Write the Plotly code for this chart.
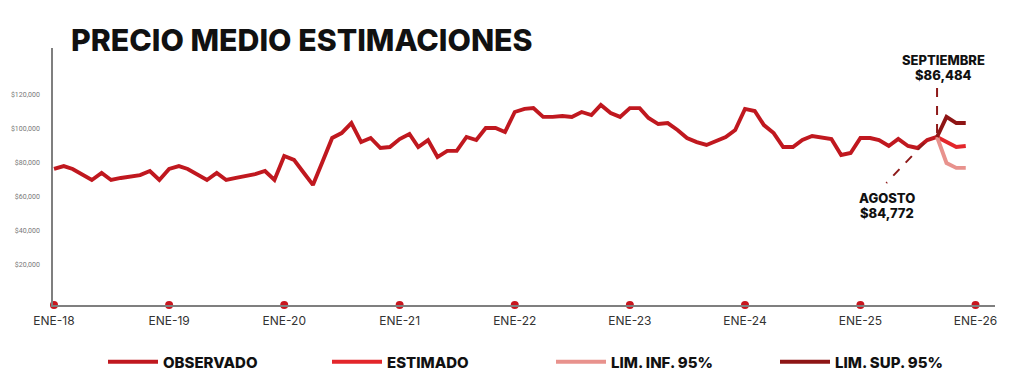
import pandas as pd
import plotly.graph_objects as go

# ---------------- data ----------------
start_month = "2018-01-01"
observado = [
    76500, 78200, 76500, 73500, 70000, 74100, 70000, 71200, 72300, 72900, 75300, 70000,   # 2018
    76500, 78200, 76500, 72900, 70000, 74100, 70000, 71200, 72300, 73500, 75300, 70000,   # 2019
    84100, 81800, 74700, 67100, 80600, 94700, 97600, 103500, 92300, 94700, 88800, 89400,  # 2020
    94100, 97100, 89400, 93500, 83500, 87100, 87100, 95300, 93500, 100600, 100600, 98200, # 2021
    110000, 111800, 112300, 107100, 107100, 107600, 107100, 110000, 108200, 114100, 109400, 107100,  # 2022
    112300, 112300, 106500, 102900, 103500, 99400, 94700, 92300, 90600, 92900, 95300, 99400,  # 2023
    111800, 110600, 102300, 97600, 89400, 89400, 93500, 95900, 94700, 94100, 84700, 85900,  # 2024
    94700, 94700, 93500, 90000, 94100, 90000, 88800, 93500, 95300,                          # 2025 (ene-sep)
]
estimado = [95300, 92300, 89400, 90000]      # sep-dic 2025
lim_inf = [95300, 80000, 77100, 77100]
lim_sup = [95300, 107100, 103500, 103500]

years = list(range(2018, 2027))
tick_labels = [f"ENE-{str(y)[2:]}" for y in years]
y_ticks = [20000, 40000, 60000, 80000, 100000, 120000]

series_names = ["OBSERVADO", "ESTIMADO", "LIM. INF. 95%", "LIM. SUP. 95%"]
colors = ["#C0181F", "#E3262B", "#E8928D", "#8E1515"]

label_ago = ["AGOSTO", "$84,772"]
label_sep = ["SEPTIEMBRE", "$86,484"]

# ---------------- build ----------------
obs_dates = pd.date_range(start_month, periods=len(observado), freq="MS")
fc_dates = pd.date_range(obs_dates[-1], periods=len(estimado), freq="MS")
tick_dates = [pd.Timestamp(f"{y}-01-01") for y in years]

# figure is drawn inside the page body (8px default margin), so size it accordingly
FW, FH = 1016, 381
L, R, T, B = 45, 29, 40, 84
W, H = FW - L - R, FH - T - B
days_per_px = 30.44 / 9.6
x0 = pd.Timestamp(start_month) - pd.Timedelta(days=1 * days_per_px)
x1 = x0 + pd.Timedelta(days=W * days_per_px)
ymin, ymax = -3530, 147640


def px_x(date, dpx):
    return date + pd.Timedelta(days=dpx * days_per_px)


def px_y(val, dpx):
    return val - dpx * (ymax - ymin) / H


fig = go.Figure()
for name, xs, ys, col in [
    (series_names[0], obs_dates, observado, colors[0]),
    (series_names[1], fc_dates, estimado, colors[1]),
    (series_names[2], fc_dates, lim_inf, colors[2]),
    (series_names[3], fc_dates, lim_sup, colors[3]),
]:
    fig.add_trace(go.Scatter(x=xs, y=ys, mode="lines", name=name,
                             line=dict(color=col, width=3.9)))
# red dots on the x axis at each tick
fig.add_trace(go.Scatter(x=tick_dates, y=[ymin] * len(tick_dates), mode="markers",
                         marker=dict(color="#C8161E", size=8), cliponaxis=False,
                         showlegend=False, hoverinfo="skip"))

# dashed leaders for the labelled months
sep_date, sep_val = obs_dates[-1], observado[-1]
ago_date, ago_val = obs_dates[-2], observado[-2]
dash_col = "#8E1A1A"
fig.add_shape(type="line", xref="x", yref="y",
              x0=sep_date, x1=sep_date, y0=px_y(sep_val, -4), y1=px_y(sep_val, -50),
              line=dict(color=dash_col, width=2, dash="dash"))
fig.add_shape(type="line", xref="x", yref="y",
              x0=px_x(ago_date, -3), y0=px_y(ago_val, 3),
              x1=px_x(ago_date, -41), y1=px_y(ago_val, 43),
              line=dict(color=dash_col, width=2, dash="dash"))

txt_font = dict(family="Inter, Roboto, sans-serif", size=13, color="#111111", weight=800)
for i, (dx, dy) in enumerate([(6, -77), (6, -62)]):
    fig.add_annotation(x=px_x(sep_date, dx), y=px_y(sep_val, dy), xref="x", yref="y",
                       text=label_sep[i], showarrow=False, font=txt_font,
                       xanchor="center", yanchor="middle")
for i, (dx, dy) in enumerate([(-40, 58), (-40, 73)]):
    fig.add_annotation(x=px_x(ago_date, dx), y=px_y(ago_val, dy), xref="x", yref="y",
                       text=label_ago[i], showarrow=False, font=txt_font,
                       xanchor="center", yanchor="middle")

fig.update_layout(
    width=FW, height=FH,
    margin=dict(l=L, r=R, t=T, b=B, autoexpand=False),
    paper_bgcolor="white", plot_bgcolor="white",
    title=dict(text="PRECIO MEDIO ESTIMACIONES", x=63 / FW, xanchor="left",
               xref="container", y=1 - 32 / FH, yanchor="middle", yref="container",
               font=dict(family="Inter, Roboto, sans-serif", size=30.3, color="#111111", weight=800)),
    xaxis=dict(type="date", range=[x0, x1], tickvals=tick_dates, ticktext=tick_labels,
               showgrid=False, zeroline=False, showline=True, linecolor="#7F7F7F", linewidth=1.5,
               ticks="", ticklabelstandoff=4, automargin=False,
               tickfont=dict(family="Inter, Roboto, sans-serif", size=12, color="#333333")),
    yaxis=dict(range=[ymin, ymax], tickvals=y_ticks, tickformat="$,.0f",
               showgrid=False, zeroline=False, showline=True, linecolor="#7F7F7F", linewidth=1.5,
               ticks="", ticklabelstandoff=10, automargin=False,
               tickfont=dict(family="Roboto, sans-serif", size=7, color="#777777")),
    showlegend=True,
    legend=dict(orientation="h", xref="container", x=95 / FW, xanchor="left",
                yref="container", y=1 - 354 / FH, yanchor="middle",
                itemwidth=50, entrywidth=159, entrywidthmode="pixels",
                font=dict(family="Inter, Roboto, sans-serif", size=15, color="#111111", weight=800),
                bgcolor="rgba(0,0,0,0)"),
)

fig.write_html("out.html")
